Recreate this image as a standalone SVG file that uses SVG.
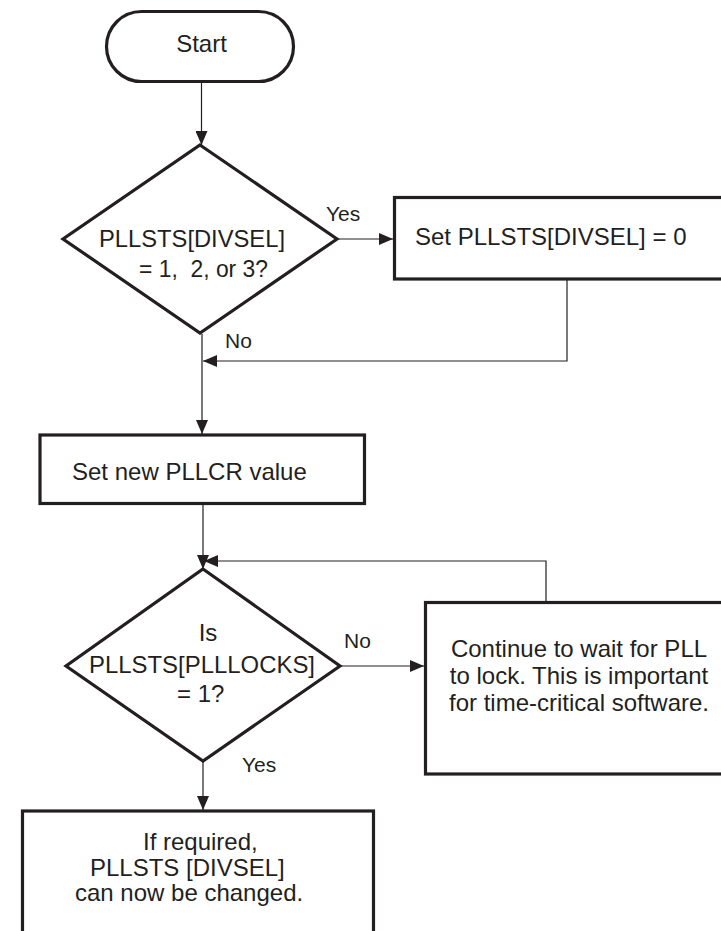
<svg xmlns="http://www.w3.org/2000/svg" width="721" height="931" viewBox="0 0 721 931">
<defs>
<marker id="ah" viewBox="0 0 14 12" refX="14" refY="6" markerWidth="14" markerHeight="12" markerUnits="userSpaceOnUse" orient="auto">
<path d="M0,0 L14,6 L0,12 Z" fill="#231f20"/>
</marker>
<style>
.shape{fill:#fff;stroke:#231f20;stroke-width:3.2;stroke-linejoin:miter}
.conn{fill:none;stroke:#231f20;stroke-width:1.2}
text{font-family:"Liberation Sans",Arial,sans-serif;fill:#231f20}
.t{font-size:24px}
.lbl{font-size:21px}
.c{text-anchor:middle}
</style>
</defs>
<rect width="721" height="931" fill="#fff"/>
<g id="connectors">
<path class="conn" d="M201.5,82 V145" marker-end="url(#ah)"/>
<path class="conn" d="M338,239 H393" marker-end="url(#ah)"/>
<path class="conn" d="M567,280 V361 H203" marker-end="url(#ah)"/>
<path class="conn" d="M202,334 V434" marker-end="url(#ah)"/>
<path class="conn" d="M203,505 V569" marker-end="url(#ah)"/>
<path class="conn" d="M546,601 V561 H204" marker-end="url(#ah)"/>
<path class="conn" d="M341,666 H424" marker-end="url(#ah)"/>
<path class="conn" d="M203,762 V810" marker-end="url(#ah)"/>
<text class="lbl" x="326" y="221">Yes</text>
<text class="lbl" x="225" y="348">No</text>
<text class="lbl" x="344" y="648">No</text>
<text class="lbl" x="242" y="772">Yes</text>
</g>
<g id="start">
<rect class="shape" x="106.5" y="11.5" width="187" height="70" rx="35" ry="35"/>
<text class="t c" x="201.5" y="52">Start</text>
</g>
<g id="decision1">
<polygon class="shape" points="200,145 337,239 200,333 63,239"/>
<text class="t" x="99" y="247" textLength="186" lengthAdjust="spacingAndGlyphs">PLLSTS[DIVSEL]</text>
<text class="t" x="139" y="277" textLength="129" lengthAdjust="spacingAndGlyphs" xml:space="preserve">= 1,  2, or 3?</text>
</g>
<g id="set-divsel">
<rect class="shape" x="394.5" y="197.5" width="340" height="81.5"/>
<text class="t" x="415" y="245">Set PLLSTS[DIVSEL] = 0</text>
</g>
<g id="set-pllcr">
<rect class="shape" x="40" y="435" width="324.5" height="68.5"/>
<text class="t" x="72" y="480">Set new PLLCR value</text>
</g>
<g id="decision2">
<polygon class="shape" points="203,569 340,666 203,761 66,666"/>
<text class="t c" x="208" y="641">Is</text>
<text class="t" x="89" y="673" textLength="226" lengthAdjust="spacingAndGlyphs">PLLSTS[PLLLOCKS]</text>
<text class="t" x="177" y="702">= 1?</text>
</g>
<g id="wait">
<rect class="shape" x="425.5" y="602.5" width="310" height="171.5"/>
<text class="t c" x="579" y="657">Continue to wait for PLL</text>
<text class="t c" x="579" y="684">to lock. This is important</text>
<text class="t c" x="579" y="711">for time-critical software.</text>
</g>
<g id="done">
<rect class="shape" x="22.5" y="811" width="351" height="140"/>
<text class="t" x="143" y="850">If required,</text>
<text class="t" x="90" y="876">PLLSTS [DIVSEL]</text>
<text class="t" x="75" y="901">can now be changed.</text>
</g>
</svg>
